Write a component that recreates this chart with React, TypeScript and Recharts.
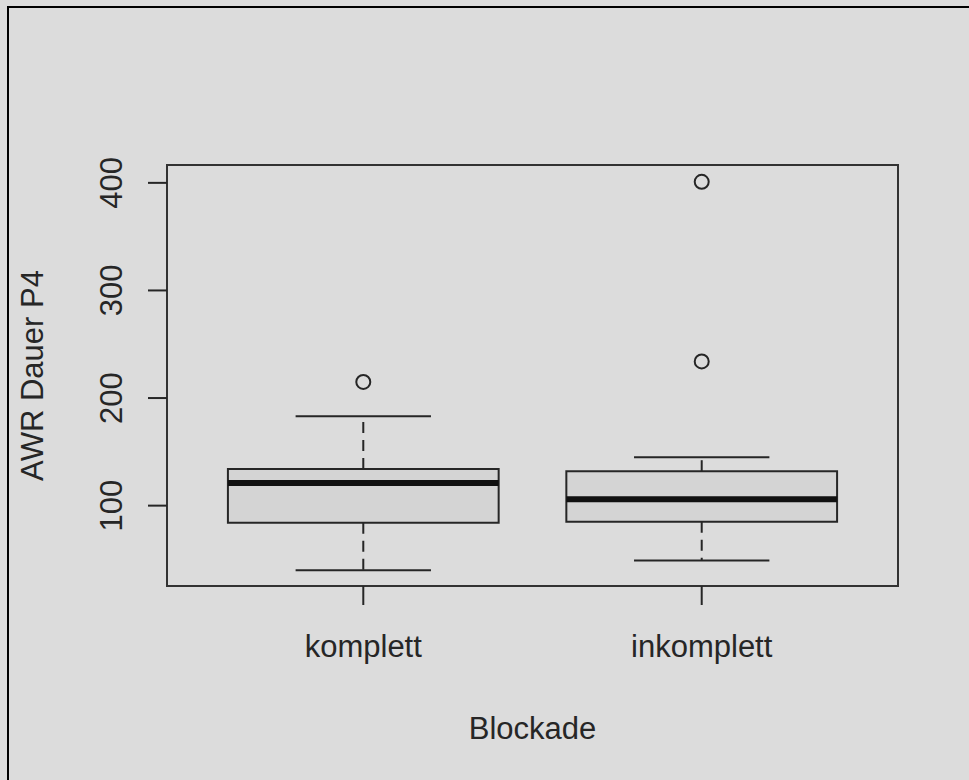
import React from 'react';
import {
  ComposedChart,
  XAxis,
  YAxis,
  Scatter,
  ReferenceArea,
  ReferenceLine,
  Label,
} from 'recharts';

// boxplot stats
const categories = ['komplett', 'inkomplett'];
const positions = [1, 2];
const lowerWhisker = [40, 49];
const q1 = [84, 85];
const median = [121, 106];
const q3 = [134, 132];
const upperWhisker = [183, 145];
const outliers = [[215], [234, 401]];
const yTicks = [100, 200, 300, 400];

const X_DOMAIN: [number, number] = [0.42, 2.58];
const Y_DOMAIN: [number, number] = [25.3, 416.6];
const BOX_HALF = 0.4;
const CAP_HALF = 0.2;

const BG = '#dcdcdc';
const INK = '#262626';
const FONT = '"Liberation Sans", Arial, sans-serif';

const outlierData = outliers.flatMap((vals, i) =>
  vals.map((v) => ({ x: positions[i], y: v }))
);

const YTick = (props: any) => {
  const { x, y, payload } = props;
  const bx = x - 24;
  return (
    <text
      x={bx}
      y={y}
      transform={`rotate(-90 ${bx} ${y})`}
      textAnchor="middle"
      fontSize={31}
      fontFamily={FONT}
      fill={INK}
    >
      {payload.value}
    </text>
  );
};

const XTick = (props: any) => {
  const { x, y, payload } = props;
  const idx = positions.indexOf(payload.value);
  return (
    <text x={x} y={y + 50} textAnchor="middle" fontSize={31} fontFamily={FONT} fill={INK}>
      {categories[idx]}
    </text>
  );
};

const OutlierDot = (props: any) => (
  <circle cx={props.cx} cy={props.cy} r={7} fill="none" stroke={INK} strokeWidth={2} />
);

const App: React.FC = () => {
  return (
    <div style={{ position: 'absolute', left: 0, top: 0, width: 969, height: 780, background: BG }}>
      <div
        style={{
          position: 'absolute',
          left: 7,
          top: 6,
          right: 0,
          bottom: 0,
          borderTop: '2px solid #000',
          borderLeft: '2px solid #000',
        }}
      />
      <div style={{ position: 'absolute', left: 0, top: 0 }}>
        <ComposedChart
          width={969}
          height={780}
          margin={{ top: 165, right: 71, bottom: 134, left: 107 }}
        >
          <XAxis
            type="number"
            dataKey="x"
            domain={X_DOMAIN}
            allowDataOverflow
            ticks={positions}
            tick={<XTick />}
            tickSize={19}
            tickLine={{ stroke: INK, strokeWidth: 2 }}
            axisLine={false}
            height={60}
          >
            <Label
              content={(p: any) => {
                const vb = p.viewBox;
                return (
                  <text
                    x={vb.x + vb.width / 2}
                    y={vb.y + 153}
                    textAnchor="middle"
                    fontSize={31}
                    fontFamily={FONT}
                    fill={INK}
                  >
                    Blockade
                  </text>
                );
              }}
            />
          </XAxis>
          <YAxis
            type="number"
            dataKey="y"
            domain={Y_DOMAIN}
            allowDataOverflow
            ticks={yTicks}
            tick={<YTick />}
            tickSize={19}
            tickLine={{ stroke: INK, strokeWidth: 2 }}
            axisLine={false}
            width={60}
          >
            <Label
              content={(p: any) => {
                const vb = p.viewBox;
                const lx = vb.x + vb.width - 124;
                const ly = vb.y + vb.height / 2;
                return (
                  <text
                    x={lx}
                    y={ly}
                    transform={`rotate(-90 ${lx} ${ly})`}
                    textAnchor="middle"
                    fontSize={31}
                    fontFamily={FONT}
                    fill={INK}
                  >
                    AWR Dauer P4
                  </text>
                );
              }}
            />
          </YAxis>

          {/* plot frame */}
          <ReferenceArea
            x1={X_DOMAIN[0]}
            x2={X_DOMAIN[1]}
            y1={Y_DOMAIN[0]}
            y2={Y_DOMAIN[1]}
            fill="none"
            stroke="#333"
            strokeWidth={2}
            ifOverflow="visible"
          />

          {/* whiskers */}
          {positions.map((p, i) => (
            <ReferenceLine
              key={`wu${i}`}
              segment={[{ x: p, y: q3[i] }, { x: p, y: upperWhisker[i] }]}
              stroke={INK}
              strokeWidth={2}
              strokeDasharray="11 7"
            />
          ))}
          {positions.map((p, i) => (
            <ReferenceLine
              key={`wl${i}`}
              segment={[{ x: p, y: q1[i] }, { x: p, y: lowerWhisker[i] }]}
              stroke={INK}
              strokeWidth={2}
              strokeDasharray="11 7"
            />
          ))}
          {positions.map((p, i) => (
            <ReferenceLine
              key={`cu${i}`}
              segment={[{ x: p - CAP_HALF, y: upperWhisker[i] }, { x: p + CAP_HALF, y: upperWhisker[i] }]}
              stroke={INK}
              strokeWidth={2}
            />
          ))}
          {positions.map((p, i) => (
            <ReferenceLine
              key={`cl${i}`}
              segment={[{ x: p - CAP_HALF, y: lowerWhisker[i] }, { x: p + CAP_HALF, y: lowerWhisker[i] }]}
              stroke={INK}
              strokeWidth={2}
            />
          ))}

          {/* boxes */}
          {positions.map((p, i) => (
            <ReferenceArea
              key={`b${i}`}
              x1={p - BOX_HALF}
              x2={p + BOX_HALF}
              y1={q1[i]}
              y2={q3[i]}
              fill="#d4d4d4"
              fillOpacity={1}
              stroke={INK}
              strokeWidth={2}
            />
          ))}

          {/* medians */}
          {positions.map((p, i) => (
            <ReferenceLine
              key={`m${i}`}
              segment={[{ x: p - BOX_HALF, y: median[i] }, { x: p + BOX_HALF, y: median[i] }]}
              stroke="#111"
              strokeWidth={6}
            />
          ))}

          <Scatter data={outlierData} shape={<OutlierDot />} isAnimationActive={false} />
        </ComposedChart>
      </div>
    </div>
  );
};

export default App;
